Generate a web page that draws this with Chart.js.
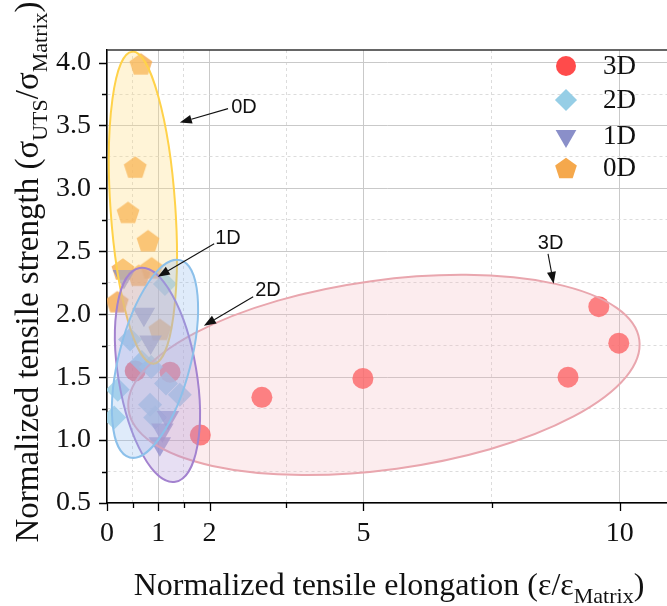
<!DOCTYPE html>
<html>
<head>
<meta charset="utf-8">
<script src="https://cdn.jsdelivr.net/npm/chart.js@4.4.0/dist/chart.umd.min.js"></script>
<style>
  html, body { margin: 0; padding: 0; background: #fff; }
  #wrap { width: 667px; height: 606px; }
</style>
</head>
<body>
<div id="wrap"><canvas id="chart" width="667" height="606"></canvas></div>
<script>
// Normalized tensile strength vs elongation, grouped by reinforcement dimension

const seriesLabels = ['3D', '2D', '1D', '0D'];

const x3D = [0.55, 1.23, 1.82, 3.02, 4.99, 8.99, 9.59, 9.98];
const y3D = [1.55, 1.54, 1.04, 1.34, 1.49, 1.50, 2.06, 1.77];

const x2D = [1.13, 0.45, 0.68, 0.86, 1.15, 1.42, 0.84, 0.94, 0.21, 0.14];
const y2D = [2.24, 1.80, 1.62, 1.58, 1.45, 1.36, 1.28, 1.18, 1.40, 1.18];

const x1D = [0.33, 0.72, 0.85, 1.19, 1.08, 1.03];
const y1D = [2.30, 2.00, 1.78, 1.18, 1.08, 0.97];

const x0D = [0.66, 0.55, 0.41, 0.80, 0.31, 0.62, 0.87, 0.20, 1.03];
const y0D = [3.99, 3.17, 2.81, 2.585, 2.36, 2.31, 2.37, 2.10, 1.88];

const xTicksMajor = [0, 1, 2, 5, 10];
const xTicksMinor = [0.5, 1.5, 3.5, 7.5];
const yTicksMajor = [0.5, 1.0, 1.5, 2.0, 2.5, 3.0, 3.5, 4.0];
const yTicksMinor = [0.75, 1.25, 1.75, 2.25, 2.75, 3.25, 3.75];

// grouping ellipses, data units: centre and two conjugate half-axes
const regionNames = ['3D', '0D', '1D', '2D'];
const regionCx = [5.40, 0.70, 0.984, 0.936];
const regionCy = [1.518, 2.847, 1.518, 1.646];
const regionAxisU = [[4.98, 0.278], [-0.21, 1.24], [-0.349, 0.850], [0.493, 0.784]];
const regionAxisV = [[0.250, -0.745], [0.63, 0.019], [0.752, 0.0517], [0.680, -0.0713]];

// callouts: label position, arrow start, arrow tip (data units)
const noteLabels = ['0D', '1D', '2D', '3D'];
const noteAt = [[2.67, 3.642], [2.36, 2.60], [3.14, 2.187], [8.65, 2.56]];
const noteFrom = [[2.36, 3.634], [2.09, 2.56], [2.85, 2.139], [8.60, 2.48]];
const noteTo = [[1.42, 3.523], [0.99, 2.298], [1.89, 1.908], [8.71, 2.242]];

const styles = {
    '3D': { rgb: '255,75,75', shape: 'circle', radius: 10.5, rotation: 0, order: 3 },
    '2D': { rgb: '150,206,230', shape: 'rectRot', radius: 12, rotation: 0, order: 1 },
    '1D': { rgb: '138,143,201', shape: 'triangle', radius: 13, rotation: 180, order: 0 },
    '0D': { rgb: '245,168,76', shape: 'pentagon', radius: 12, rotation: 0, order: 2 }
};

const regionStyles = {
    '3D': { stroke: '#e9a6ae', fill: 'rgba(245,180,188,0.25)' },
    '0D': { stroke: '#ffd24a', fill: 'rgba(255,220,130,0.32)' },
    '1D': { stroke: '#a382cf', fill: 'rgba(175,150,215,0.30)' },
    '2D': { stroke: '#8cc0ea', fill: 'rgba(150,190,240,0.30)' }
};

const SERIF = '"Liberation Serif", "Times New Roman", serif';
const SANS = '"Liberation Sans", Arial, sans-serif';

function pentagonPath(g, cx, cy, r) {
    g.beginPath();
    for (let k = 0; k < 5; k++) {
        const a = -Math.PI / 2 + k * 2 * Math.PI / 5;
        const px = cx + r * Math.cos(a);
        const py = cy + r * Math.sin(a) + r * 0.095;
        if (k === 0) g.moveTo(px, py); else g.lineTo(px, py);
    }
    g.closePath();
}

function pentagonCanvas(fill, r) {
    const c = document.createElement('canvas');
    const s = Math.ceil(r * 2 + 2);
    c.width = s;
    c.height = s;
    const g = c.getContext('2d');
    g.fillStyle = fill;
    pentagonPath(g, s / 2, s / 2, r);
    g.fill();
    return c;
}

function pairs(xs, ys) {
    return xs.map((x, i) => ({ x: x, y: ys[i] }));
}

const seriesData = { '3D': pairs(x3D, y3D), '2D': pairs(x2D, y2D), '1D': pairs(x1D, y1D), '0D': pairs(x0D, y0D) };

const datasets = seriesLabels.map(name => {
    const st = styles[name];
    const fill = `rgba(${st.rgb},0.8)`;
    return {
        label: name,
        data: seriesData[name],
        pointStyle: st.shape === 'pentagon' ? pentagonCanvas(fill, st.radius) : st.shape,
        pointRadius: st.radius,
        pointRotation: st.rotation,
        backgroundColor: fill,
        borderWidth: 0,
        pointBorderWidth: 0,
        order: st.order,
        clip: 0
    };
});

function isMajor(list, v) {
    return list.some(t => Math.abs(t - v) < 1e-6);
}

function drawArrow(ctx, x1, y1, x2, y2) {
    const ang = Math.atan2(y2 - y1, x2 - x1);
    const len = 12, hw = 4.5;
    const bx = x2 - Math.cos(ang) * len, by = y2 - Math.sin(ang) * len;
    ctx.beginPath();
    ctx.moveTo(x1, y1);
    ctx.lineTo(bx, by);
    ctx.stroke();
    ctx.beginPath();
    ctx.moveTo(x2, y2);
    ctx.lineTo(bx - Math.sin(ang) * hw, by + Math.cos(ang) * hw);
    ctx.lineTo(bx + Math.sin(ang) * hw, by - Math.cos(ang) * hw);
    ctx.closePath();
    ctx.fill();
}

// text with subscripts, centred on x, baseline on y
function drawRich(ctx, parts, x, y, size) {
    const subSize = Math.round(size * 0.68);
    let total = 0;
    parts.forEach(p => {
        ctx.font = `${p.sub ? subSize : size}px ${SERIF}`;
        p.w = ctx.measureText(p.t).width;
        total += p.w;
    });
    let cx = x - total / 2;
    ctx.textAlign = 'left';
    ctx.textBaseline = 'alphabetic';
    parts.forEach(p => {
        ctx.font = `${p.sub ? subSize : size}px ${SERIF}`;
        ctx.fillText(p.t, cx, y + (p.sub ? size * 0.26 : 0));
        cx += p.w;
    });
}

const regionsPlugin = {
    id: 'regions',
    afterDatasetsDraw(chart) {
        const ctx = chart.ctx;
        const xs = chart.scales.x, ys = chart.scales.y;
        const area = chart.chartArea;
        ctx.save();
        ctx.beginPath();
        ctx.rect(area.left, area.top, area.right - area.left, area.bottom - area.top);
        ctx.clip();
        regionNames.forEach((name, i) => {
            const cx = xs.getPixelForValue(regionCx[i]);
            const cy = ys.getPixelForValue(regionCy[i]);
            const u = regionAxisU[i], v = regionAxisV[i];
            const ux = xs.getPixelForValue(regionCx[i] + u[0]) - cx;
            const uy = ys.getPixelForValue(regionCy[i] + u[1]) - cy;
            const vx = xs.getPixelForValue(regionCx[i] + v[0]) - cx;
            const vy = ys.getPixelForValue(regionCy[i] + v[1]) - cy;
            ctx.save();
            ctx.beginPath();
            ctx.transform(ux, uy, vx, vy, cx, cy);
            ctx.arc(0, 0, 1, 0, Math.PI * 2);
            ctx.restore();
            ctx.fillStyle = regionStyles[name].fill;
            ctx.fill();
            ctx.strokeStyle = regionStyles[name].stroke;
            ctx.lineWidth = 2;
            ctx.stroke();
        });

        // callouts
        ctx.strokeStyle = '#111';
        ctx.fillStyle = '#111';
        ctx.lineWidth = 1.1;
        ctx.font = `20px ${SANS}`;
        ctx.textAlign = 'center';
        ctx.textBaseline = 'middle';
        noteLabels.forEach((lab, i) => {
            drawArrow(ctx,
                xs.getPixelForValue(noteFrom[i][0]), ys.getPixelForValue(noteFrom[i][1]),
                xs.getPixelForValue(noteTo[i][0]), ys.getPixelForValue(noteTo[i][1]));
            ctx.fillText(lab, xs.getPixelForValue(noteAt[i][0]), ys.getPixelForValue(noteAt[i][1]));
        });
        ctx.restore();
    },
    afterDraw(chart) {
        const ctx = chart.ctx;
        const xs = chart.scales.x, ys = chart.scales.y;
        const area = chart.chartArea;
        ctx.save();

        // top frame
        ctx.strokeStyle = '#333';
        ctx.lineWidth = 1.5;
        ctx.beginPath();
        ctx.moveTo(area.left, area.top);
        ctx.lineTo(area.right, area.top);
        ctx.stroke();

        // outward tick marks
        ctx.strokeStyle = '#000';
        ctx.lineWidth = 1.3;
        ctx.beginPath();
        xTicksMajor.concat(xTicksMinor).forEach(v => {
            const px = Math.round(xs.getPixelForValue(v)) + 0.5;
            const len = isMajor(xTicksMajor, v) ? 8 : 5;
            ctx.moveTo(px, area.bottom);
            ctx.lineTo(px, area.bottom + len);
        });
        yTicksMajor.concat(yTicksMinor).forEach(v => {
            const py = Math.round(ys.getPixelForValue(v)) + 0.5;
            const len = isMajor(yTicksMajor, v) ? 8 : 5;
            ctx.moveTo(area.left, py);
            ctx.lineTo(area.left - len, py);
        });
        ctx.stroke();

        // axis titles
        ctx.fillStyle = '#111';
        drawRich(ctx, [
            { t: 'Normalized tensile elongation (\u03b5/\u03b5' },
            { t: 'Matrix', sub: true },
            { t: ')' }
        ], 389, 595, 32);

        ctx.save();
        ctx.translate(38, 272);
        ctx.rotate(-Math.PI / 2);
        drawRich(ctx, [
            { t: 'Normalized tensile strength (\u03c3' },
            { t: 'UTS', sub: true },
            { t: '/\u03c3' },
            { t: 'Matrix', sub: true },
            { t: ')' }
        ], 0, 0, 33);
        ctx.restore();

        // legend, top right inside plot
        const rows = [66, 100, 136, 168];
        seriesLabels.forEach((name, i) => {
            const st = styles[name];
            const mx = 566, my = rows[i];
            ctx.fillStyle = `rgb(${st.rgb})`;
            if (st.shape === 'pentagon') {
                pentagonPath(ctx, mx, my, st.radius * 0.95);
                ctx.fill();
            } else {
                Chart.helpers.drawPoint(ctx, {
                    pointStyle: st.shape,
                    radius: st.shape === 'circle' ? 10 : st.radius * 0.92,
                    rotation: st.rotation,
                    borderWidth: 0
                }, mx, my);
            }
            ctx.fillStyle = '#111';
            ctx.font = `27px ${SERIF}`;
            ctx.textAlign = 'left';
            ctx.textBaseline = 'middle';
            ctx.fillText(name, 603, my + 1);
        });
        ctx.restore();
    }
};

new Chart(document.getElementById('chart'), {
    type: 'scatter',
    data: { datasets: datasets },
    plugins: [regionsPlugin],
    options: {
        responsive: false,
        animation: false,
        events: [],
        layout: { autoPadding: false, padding: { top: 50, right: 0, left: 0, bottom: 0 } },
        plugins: {
            legend: { display: false },
            tooltip: { enabled: false }
        },
        scales: {
            x: {
                type: 'linear',
                min: 0,
                max: 10.92,
                afterBuildTicks: s => {
                    s.ticks = xTicksMajor.concat(xTicksMinor).sort((a, b) => a - b).map(v => ({ value: v }));
                },
                afterFit: s => {
                    s.height = 103;
                    s.paddingLeft = 0;
                    s.paddingRight = 0;
                },
                ticks: {
                    autoSkip: false,
                    maxRotation: 0,
                    padding: 14,
                    color: '#111',
                    font: { family: SERIF, size: 28 },
                    callback: v => isMajor(xTicksMajor, v) ? String(v) : ''
                },
                grid: {
                    drawTicks: false,
                    color: ctx => {
                        const v = ctx.tick ? ctx.tick.value : 0;
                        return isMajor(xTicksMajor, v) ? '#c9c9c9' : '#dcdcdc';
                    },
                    lineWidth: 1
                },
                border: {
                    color: '#000',
                    width: 1.5,
                    dash: ctx => (ctx.tick && !isMajor(xTicksMajor, ctx.tick.value)) ? [3, 3] : []
                }
            },
            y: {
                type: 'linear',
                min: 0.5,
                max: 4.1,
                afterBuildTicks: s => {
                    s.ticks = yTicksMajor.concat(yTicksMinor).sort((a, b) => a - b).map(v => ({ value: v }));
                },
                afterFit: s => {
                    s.width = 107;
                    s.paddingTop = 0;
                    s.paddingBottom = 0;
                },
                ticks: {
                    autoSkip: false,
                    padding: 16,
                    color: '#111',
                    font: { family: SERIF, size: 28 },
                    callback: v => isMajor(yTicksMajor, v) ? v.toFixed(1) : ''
                },
                grid: {
                    drawTicks: false,
                    color: ctx => {
                        const v = ctx.tick ? ctx.tick.value : 0;
                        return isMajor(yTicksMajor, v) ? '#c9c9c9' : '#dcdcdc';
                    },
                    lineWidth: 1
                },
                border: {
                    color: '#000',
                    width: 1.5,
                    dash: ctx => (ctx.tick && !isMajor(yTicksMajor, ctx.tick.value)) ? [3, 3] : []
                }
            }
        }
    }
});
</script>
</body>
</html>
